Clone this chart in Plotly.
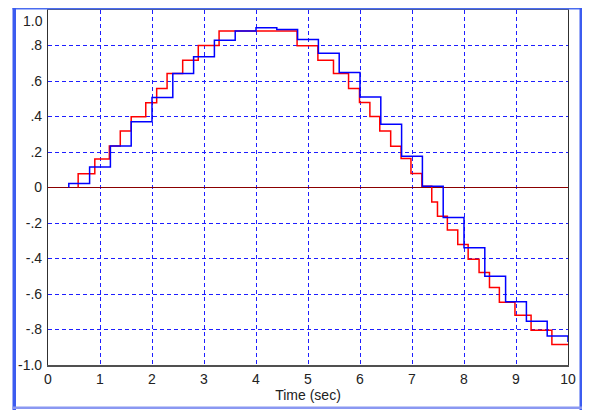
import plotly.graph_objects as go

# ---- data ----
blue_t = [0.4, 0.8, 1.2, 1.6, 2.0, 2.4, 2.8, 3.2, 3.6, 4.0, 4.4, 4.8, 5.2, 5.6,
          6.0, 6.4, 6.8, 7.2, 7.6, 8.0, 8.4, 8.8, 9.2, 9.6, 10.0]
blue_y = [0.022, 0.116, 0.234, 0.370, 0.507, 0.642, 0.736, 0.830, 0.882, 0.900,
          0.890, 0.834, 0.757, 0.648, 0.510, 0.357, 0.176, 0.007, -0.169, -0.340,
          -0.500, -0.644, -0.753, -0.836, -0.870]

red_t = [0.58, 0.90, 1.18, 1.39, 1.60, 1.88, 2.09, 2.29, 2.59, 2.89, 3.29, 4.79,
         5.19, 5.49, 5.78, 5.99, 6.19, 6.38, 6.59, 6.79, 6.98, 7.19, 7.38, 7.49,
         7.68, 7.88, 8.08, 8.29, 8.49, 8.68, 8.98, 9.29, 9.69, 10.0]
red_y = [0.077, 0.161, 0.234, 0.319, 0.398, 0.477, 0.558, 0.642, 0.717, 0.800,
         0.882, 0.798, 0.717, 0.642, 0.558, 0.479, 0.400, 0.319, 0.233, 0.163,
         0.079, 0.007, -0.081, -0.162, -0.240, -0.321, -0.404, -0.479, -0.563,
         -0.646, -0.720, -0.804, -0.885, -0.885]

x_ticks = [0, 1, 2, 3, 4, 5, 6, 7, 8, 9, 10]
y_ticks = [1.0, 0.8, 0.6, 0.4, 0.2, 0.0, -0.2, -0.4, -0.6, -0.8, -1.0]
y_labels = ["1.0", ".8", ".6", ".4", ".2", "0", "-.2", "-.4", "-.6", "-.8", "-1.0"]
x_title = "Time (sec)"

# ---- layout geometry (page body has an 8px margin) ----
OFF = 8
W, H = 582, 402
ML, MR, MT, MB = 40, 22, 2, 45
PW, PH = W - ML - MR, H - MT - MB


def px(x):
    return (x - OFF - ML) / PW


def py(y):
    return (H - MB - (y - OFF)) / PH


fig = go.Figure()
fig.add_trace(go.Scatter(x=[red_t[0]] + red_t, y=[0.0] + red_y, mode="lines",
                         line=dict(color="#FF0000", width=1.5, shape="hv"),
                         showlegend=False, hoverinfo="skip"))
fig.add_trace(go.Scatter(x=[blue_t[0]] + blue_t, y=[0.0] + blue_y, mode="lines",
                         line=dict(color="#0000FF", width=1.5, shape="hv"),
                         showlegend=False, hoverinfo="skip"))

font = dict(family="Liberation Sans, Arial, sans-serif", size=14, color="#222222")

# the top tick label sits a little lower than its gridline (drawn as annotation)
tick_text = [""] + y_labels[1:]

fig.update_xaxes(range=[0, 10], tickvals=x_ticks, ticktext=[str(v) for v in x_ticks],
                 showgrid=True, gridcolor="#1E1EFF", gridwidth=1, griddash="4px,3px",
                 zeroline=False, showline=True, linecolor="#505050", linewidth=1.5,
                 mirror=True, ticks="", tickfont=font, automargin=False,
                 title=dict(text=x_title, font=font, standoff=4))
fig.update_yaxes(range=[-1, 1], tickvals=y_ticks, ticktext=tick_text,
                 showgrid=True, gridcolor="#1E1EFF", gridwidth=1, griddash="4px,3px",
                 zeroline=True, zerolinecolor="#8B0000", zerolinewidth=1.2,
                 showline=True, linecolor="#303030", linewidth=1.2, mirror=True,
                 ticks="", tickfont=font, automargin=False, ticklabelstandoff=2)

fig.add_annotation(x=0, y=y_ticks[0], xref="paper", yref="y", text=y_labels[0],
                   showarrow=False, xanchor="right", yanchor="top", xshift=-3,
                   yshift=-1, font=font)

# outer blue panel border (viewport pixel positions)
shapes = [
    dict(x0=12.5, x1=584, y0=6.5, y1=9.5, color="#4A6CF0"),   # top
    dict(x0=12.5, x1=16, y0=6.5, y1=410, color="#3C5CF0"),    # left
    dict(x0=579.5, x1=584, y0=6.5, y1=410, color="#3C5CF0"),  # right
    dict(x0=12.5, x1=584, y0=406.5, y1=409, color="#8A98F2"),  # bottom
]
for s in shapes:
    fig.add_shape(type="rect", xref="paper", yref="paper",
                  x0=px(s["x0"]), x1=px(s["x1"]), y0=py(s["y1"]), y1=py(s["y0"]),
                  fillcolor=s["color"], line=dict(width=0), layer="above")

fig.update_layout(width=W, height=H, margin=dict(l=ML, r=MR, t=MT, b=MB),
                  paper_bgcolor="white", plot_bgcolor="white", showlegend=False)

fig.write_html("out.html")
